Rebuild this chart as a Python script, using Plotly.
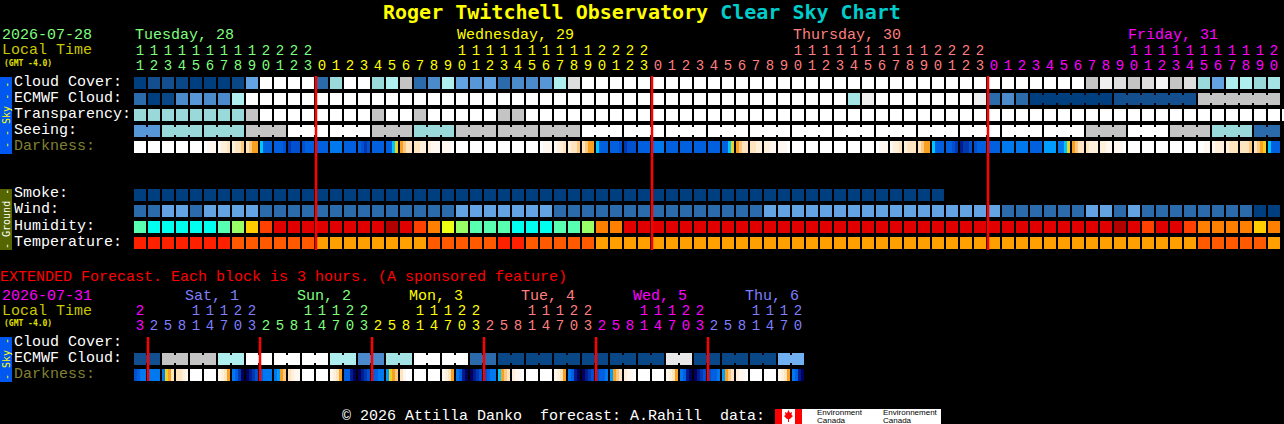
import plotly.graph_objects as go
from plotly.colors import sample_colorscale

W, H = 1284, 424
MONO = "Liberation Mono"

main_hours = [11,12,13,14,15,16,17,18,19,20,21,22,23,
              0,1,2,3,4,5,6,7,8,9,10,11,12,13,14,15,16,17,18,19,20,21,22,23,
              0,1,2,3,4,5,6,7,8,9,10,11,12,13,14,15,16,17,18,19,20,21,22,23,
              0,1,2,3,4,5,6,7,8,9,10,11,12,13,14,15,16,17,18,19,20]
ext_hours = [23,
             2,5,8,11,14,17,20,23, 2,5,8,11,14,17,20,23, 2,5,8,11,14,17,20,23,
             2,5,8,11,14,17,20,23, 2,5,8,11,14,17,20,23, 2,5,8,11,14,17,20]

cloud_cover = [10,9,9,9.5,10,10,10,9.5,6,0,0,0,0,8,4,0,0,4,3,2,8,7,3,6,6.5,6,8,7,7,6.5,3,1,
               0,0,0,0,0,0,0,0,0,0,0,0,0,0,0,0,0,0,0,0,0,0,0,0,0,0,0,0,0,0,0,0,0,0,0,0,
               2,0.5,1,2,1,0.3,2,1,4,6,3,3,4,3.5]
ecmwf_cloud = [8,10,9.5,7,6.5,7,7,3,
               0,0,0,0,0,0,0,0,0,0,0,0,0,0,0,0,0,0,0,0,0,0,0,0,0,0,0,0,0,0,0,0,0,0,0,0,0,0,0,0,0,0,0,
               3.5,0.5,0,0,0,0,0,0,0,0.5,8,7,8,
               10,10,10,10,10,10,9,9,9,9,9,9,2,2,2,2,2,2]
transparency = [4,4,4,4,4,4,4,4,2,0,0,0,0,0,0,0,0,2,0,0,2,0,0,0,0,0,2,2,
                0,0,0,0,0,0,0,0,0,0,0,0,0,0,0,0,0,0,0,0,0,0,0,0,0,0,0,0,
                0,0,0,0,0,0,0,0,0,0,0,0,0,0,0,0,0,0,0,0,0,0,0,0,0,0,0,0]
seeing = [6.5,6.5,4,4,4,4,4,4,2,2,2,0,0,0,0,0,0,2,2,2,4,4,4,2,2,2,2,2,2,2,2,2,
          0,0,0,0,0,0,0,0,0,0,0,0,0,0,0,0,0,0,0,0,0,0,0,0,0,0,0,0,0,0,0,0,0,0,0,0,
          2,2,2,0,0,0,2,2,2,4,4,4,8,8]
smoke = [10,10,10,10,10,10,10,10,10,10,10,10,10,10,10,10,10,10,10,10,10,10,10,10,10,10,10,10,10,
         10,10,10,10,10,10,10,10,10,10,10,10,10,10,10,10,10,10,10,10,10,10,10,10,10,10,10,10,10,
         None,None,None,None,None,None,None,None,None,None,None,None,None,None,None,None,None,None,None,None,None,None,None,None]
wind = [8,8,6,6,8,6,6,6,6,8,8,8,8,8,8,8,8,8,8,8,8,8,8,6,6,6,6,6,6,6,
        8,8,8,8,8,8,8,8,8,8,8,8,8,8,8,6,6,6,6,6,6,6,6,6,6,6,6,6,6,6,6,6,
        8,8,8,8,8,8,6,6,8,6,8,8,8,8,8,8,8,8,10,10]
humidity = [1,0,0,0,0,0,1,2,4,6,7,7,7,7,7,7,7,7,8,7,6,5,3,2,1,1,1,0,0,0,1,1,2,5,5,
            7,7,7,7,7,7,7,7,7,7,7,7,7,7,7,7,7,7,7,7,7,7,7,7,7,7,7,7,7,7,7,7,7,7,7,
            8,7,6,7,7,6,5,5,5,5,4,5]
temperature = [2,2,2,2,2,2,2,1,1,1,1,1,1,0,0,0,0,0,0,0,0,1,1,1,1,1,2,2,1,1,1,1,1,
               0,0,0,0,0,0,0,0,0,0,0,0,0,0,0,0,0,0,0,0,0,0,0,0,0,0,0,0,0,0,0,0,0,0,0,0,0,0,0,0,0,0,0,
               1,1,1,1,1,0]
darkness = [
    [0,0,0,0],[0,0,0,0],[0,0,0,0],[0,0,0,0],[0,0,0,0],[0,1,1,1],[1,2,2,3],[2,3,3,4],[3,4,5,5],[7,10,10,10],
    [10,10,10,11],[12,11,11,11],[11,10,10,10],[10,10,10,10],[9,9,9,9],[10,10,10,10],[10,11,12,11],[10,10,10,10],[10,10,7,6],[5,4,3,3],
    [3,3,2,2],[2,1,1,1],[1,1,1,0],[0,0,0,0],[0,0,0,0],[0,0,0,0],[0,0,0,0],[0,0,0,0],[0,0,0,0],[0,1,1,1],
    [1,2,2,3],[2,3,3,4],[3,4,5,5],[7,10,10,10],[10,10,10,11],[12,11,11,11],[10,10,10,10],[9,9,9,9],[10,10,10,10],[10,10,10,10],
    [10,10,10,10],[10,10,10,10],[10,10,7,6],[5,4,3,3],[3,3,2,2],[2,2,1,1],[1,1,1,0],[0,0,0,0],[0,0,0,0],[0,0,0,0],
    [0,0,0,0],[0,0,0,0],[0,0,0,0],[0,1,1,1],[1,2,2,3],[2,3,3,3],[3,4,5,5],[7,10,10,10],[10,10,11,12],[13,12,12,11],
    [11,10,10,10],[10,10,10,10],[9,9,9,9],[9,9,9,9],[10,10,10,10],[8,8,8,8],[9,9,7,6],[5,4,3,3],[3,2,2,2],[2,2,1,1],
    [1,1,1,0],[0,0,0,0],[0,0,0,0],[0,0,0,0],[0,0,0,0],[0,0,0,0],[0,0,1,1],[1,2,2,2],[2,3,3,3],[3,3,3,4],
    [3,4,5,6],[7,10,10,10]]

ext_ecmwf = [9,9,2,2,2,2,3,3,0,0,0,0,0,0,3,3,7,7,3.5,3.5,0,0,0,0,
             8,8,9.5,9.5,9.5,9.5,9.5,9.5,9.5,9.5,9.5,9.5,9.5,9.5,0.7,0.7,9.5,9.5,9.5,9.5,9.5,9.5,5.5,5.5]
ext_darkness = [
    [11,10,9,9],[9,9,9,9],[9,6,5,3],[3,3,2,1],[0,0,0,0],[0,0,0,0],[1,2,3,5],[9,10,12,14],
    [14,13,12,11],[10,9,9,9],[9,8,5,4],[3,2,1,1],[0,0,0,0],[0,0,0,0],[1,2,3,5],[10,10,13,14],
    [14,13,12,11],[10,10,9,9],[8,6,5,4],[3,1,0,0],[0,0,0,0],[0,0,0,0],[1,2,3,5],[9,10,13,14],
    [14,13,12,11],[11,10,9,9],[7,5,4,3],[2,1,1,0],[0,0,0,0],[0,0,0,0],[1,2,3,5],[9,10,13,14],
    [14,13,12,11],[11,10,10,9],[8,5,4,3],[2,1,1,0],[0,0,0,0],[0,0,0,0],[1,2,3,5],[9,10,13,14],
    [14,13,12,11],[11,10,10,9],[8,5,4,3],[2,1,1,0],[0,0,0,0],[0,0,0,0],[1,2,3,5],[9,10,13,14]]

# runs of blocks that are joined (first, last column)
seeing_runs = [(0,1),(2,4),(5,7),(8,10),(11,13),(14,16),(17,19),(20,22),(23,25),(26,28),(29,31),
               (32,34),(35,37),(38,40),(41,43),(44,46),(47,49),(50,52),(53,55),(56,58),(59,61),
               (62,64),(65,67),(68,70),(71,73),(74,76),(77,79),(80,81)]
ecmwf_runs = [(64,69),(70,75),(76,81)]
ext_ecmwf_runs = [(0,1),(2,3),(4,5),(6,7),(8,9),(10,11),(12,13),(14,15),(16,17),(18,19),(20,21),(22,23),
                  (24,25),(26,27),(28,29),(30,31),(32,33),(34,35),(36,37),(38,39),(40,41),(42,43),(44,45),(46,47)]

main_day_colors = ["#7fff7f", "#ffff00", "#ff7f7f", "#ff00ff"]
ext_day_colors = ["#ff00ff", "#7f7fff", "#7fff7f", "#ffff00", "#ff7f7f", "#ff00ff", "#7f7fff"]
main_midnights = [13, 37, 61]
ext_midnights = [1, 9, 17, 25, 33, 41]

# ---------- colour scales ----------
CLOUD = ["#ffffff","#dedede","#c4c4c4","#aeeeee","#99d9d9","#7fbfff","#63a3e3","#4b8bcb","#2b6bab","#134f8f","#003f7f"]
HUM = ["#00ffee","#59ffb0","#99ff66","#eeff11","#ffcc00","#ff8000","#ff4000","#e00000","#b00000"]
TEMP = ["#ffa000","#ff5a00","#ff2000"]
DARK = ["#ffffff","#fff8f0","#fff0dc","#ffe4c0","#ffc880","#f8a020","#f0d020","#00c8ff",
        "#009cff","#0078f0","#0060e0","#0050d0","#0038b0","#001c90","#000060"]

def ramp(cols):
    n = len(cols) - 1
    return [[k / n, c] for k, c in enumerate(cols)]

# ---------- helpers: row numbers on the y axis are 16 px apart, columns 14 px ----------
def ypx(p): return (p - 83) / 16
def px_x(p): return p / W
def px_y(p): return 1 - p / H

fig = go.Figure()
GAP = 3 / 7

def cell_row(vals, row, cols):
    fig.add_trace(go.Heatmap(z=[vals], x0=0, dx=1, y0=row, dy=1, colorscale=ramp(cols),
                             zmin=0, zmax=len(cols) - 1, xgap=2, ygap=4, showscale=False,
                             hoverinfo="skip"))

def dark_row(blocks, row):
    xs, zs = [], []
    for i, b in enumerate(blocks):
        n = len(b)
        xs += [i - GAP + 2 * GAP * k / n for k in range(n)]
        xs.append(i + GAP)
        zs += b + [None]
    xs.append(len(blocks) - 1 + 4 / 7)
    fig.add_trace(go.Heatmap(z=[zs], x=xs, y0=row, dy=1, colorscale=ramp(DARK), zmin=0, zmax=len(DARK) - 1,
                             ygap=4, showscale=False, hoverinfo="skip"))

def joins(vals, runs, row):
    for a, b in runs:
        for i in range(a, b):
            c = sample_colorscale(ramp(CLOUD), vals[i] / 10)[0]
            fig.add_trace(go.Scatter(x=[i + GAP - 0.02, i + 1 - GAP + 0.02], y=[row, row], mode="lines",
                                     line=dict(color=c, width=8), hoverinfo="skip", showlegend=False))

cell_row(cloud_cover, 0, CLOUD)
cell_row(ecmwf_cloud, 1, CLOUD)
cell_row(transparency, 2, CLOUD)
cell_row(seeing, 3, CLOUD)
dark_row(darkness, 4)
cell_row(smoke, 7, CLOUD)
cell_row(wind, 8, CLOUD)
cell_row(humidity, 9, HUM)
cell_row(temperature, 10, TEMP)
EXT_A, EXT_B = ypx(359), ypx(375)
cell_row(ext_ecmwf, EXT_A, CLOUD)
dark_row(ext_darkness, EXT_B)
joins(seeing, seeing_runs, 3)
joins(ecmwf_cloud, ecmwf_runs, 1)
joins(ext_ecmwf, ext_ecmwf_runs, EXT_A)

for cols, top, bot in ((main_midnights, 76, 250), (ext_midnights, 337, 381)):
    xs, ys = [], []
    for c in cols:
        xs += [c - GAP, c - GAP, None]
        ys += [ypx(top), ypx(bot), None]
    fig.add_trace(go.Scatter(x=xs, y=ys, mode="lines", line=dict(color="#ff0000", width=2.5),
                             hoverinfo="skip", showlegend=False))

def hour_ticks(hours, palette, ytens, yones):
    day, prev = 0, hours[0]
    tx, ty, tt, tc = [], [], [], []
    for i, h in enumerate(hours):
        if h < prev:
            day += 1
        prev = h
        col = palette[day]
        tx.append(i); ty.append(ypx(yones)); tt.append(str(h % 10)); tc.append(col)
        if h >= 10:
            tx.append(i); ty.append(ypx(ytens)); tt.append(str(h // 10)); tc.append(col)
    fig.add_trace(go.Scatter(x=tx, y=ty, text=tt, mode="text", textposition="middle center",
                             textfont=dict(family=MONO, size=14, color=tc), hoverinfo="skip", showlegend=False))

hour_ticks(main_hours, main_day_colors, 51, 66)
hour_ticks(ext_hours, ext_day_colors, 311, 326)

# ---------- text ----------
ann = []
def label(text, x, y, color="#ffffff", size=15, anchor="left", angle=0, bold=False, family=MONO):
    ann.append(dict(text=f"<b>{text}</b>" if bold else text, x=px_x(x), y=px_y(y), xref="paper", yref="paper",
                    xanchor=anchor, yanchor="middle", showarrow=False, borderpad=0, textangle=angle,
                    font=dict(family=family, size=size, color=color)))

label('Roger Twitchell Observatory <span style="color:#00cccc">Clear Sky Chart</span>', 642, 12,
      "#ffff00", 20, "center", bold=True, family="DejaVu Sans Mono")
label("2026-07-28", 1, 36, "#7fff7f")
label("Local Time", 1, 51, "#c8c800")
label("(GMT -4.0)", 3, 63, "#e0e000", 8, bold=True, family="DejaVu Sans Mono")
label("Tuesday, 28", 134, 36, "#7fff7f")
label("Wednesday, 29", 456, 36, "#ffff00")
label("Thursday, 30", 792, 36, "#ff7f7f")
label("Friday, 31", 1127, 36, "#ff00ff")
for name, y in (("Cloud Cover:", 82), ("ECMWF Cloud:", 98), ("Transparency:", 114), ("Seeing:", 130),
                ("Smoke:", 194), ("Wind:", 210), ("Humidity:", 226), ("Temperature:", 242)):
    label(name, 13, y)
label("Darkness:", 13, 146, "#808030")
label("EXTENDED Forecast. Each block is 3 hours. (A sponsored feature)", -1, 277, "#ff0000")
label("2026-07-31", 1, 296, "#ff00ff")
label("Local Time", 1, 311, "#c8c800")
label("(GMT -4.0)", 3, 323, "#e0e000", 8, bold=True, family="DejaVu Sans Mono")
for t, x, c in (("Sat, 1", 184, "#7f7fff"), ("Sun, 2", 296, "#7fff7f"), ("Mon, 3", 408, "#ffff00"),
                ("Tue, 4", 520, "#ff7f7f"), ("Wed, 5", 632, "#ff00ff"), ("Thu, 6", 744, "#7f7fff")):
    label(t, x, 296, c)
label("Cloud Cover:", 13, 342)
label("ECMWF Cloud:", 13, 358)
label("Darkness:", 13, 374, "#808030")
label("© 2026 Attilla Danko  forecast: A.Rahill  data:", 341, 416)
label("- - Sky - -", 6, 115, "#ffff00", 10, "center", -90, family="DejaVu Sans Mono")
label("- Ground -", 6, 219, "#ffffff", 10, "center", -90, family="DejaVu Sans Mono")
label("- Sky -", 6, 359, "#ffff00", 10, "center", -90, family="DejaVu Sans Mono")

def rect(x0, y0, x1, y1, color):
    return dict(type="rect", xref="paper", yref="paper", x0=px_x(x0), x1=px_x(x1), y0=px_y(y1), y1=px_y(y0),
                fillcolor=color, line=dict(width=0), layer="below")

shapes = [rect(0, 77, 12, 154, "#0058f0"), rect(0, 189, 12, 250, "#556600"), rect(0, 337, 12, 382, "#0058f0"),
          rect(775, 409, 941, 424, "#ffffff"), rect(775, 409, 782, 424, "#ff0000"), rect(795, 409, 802, 424, "#ff0000")]
leaf = [(788.5,410),(790,413),(792,412),(791.5,415),(793,416),(790,419),(789,419),(789,422),(788,422),(788,419),
        (787,419),(784,416),(785.5,415),(785,412),(787,413)]
shapes.append(dict(type="path", xref="paper", yref="paper", fillcolor="#ff0000", line=dict(width=0),
                   path="M " + " L ".join(f"{px_x(a):.5f} {px_y(b):.5f}" for a, b in leaf) + " Z"))
for t, x, y in (("Environment", 816, 412.5), ("Canada", 816, 420.5), ("Environnement", 882, 412.5), ("Canada", 882, 420.5)):
    label(t, x, y, "#000000", 8, family="Liberation Sans")

fig.update_layout(width=W, height=H, margin=dict(l=0, r=0, t=0, b=0), paper_bgcolor="#000000",
                  plot_bgcolor="#000000", showlegend=False, annotations=ann, shapes=shapes,
                  xaxis=dict(range=[-140 / 14, (W - 140) / 14], visible=False, fixedrange=True),
                  yaxis=dict(range=[(H - 83) / 16, -83 / 16], visible=False, fixedrange=True))
fig.write_html("out.html", config=dict(displayModeBar=False),
               post_script="document.body.style.margin='0';document.body.style.background='#000';document.body.style.overflow='hidden';")
